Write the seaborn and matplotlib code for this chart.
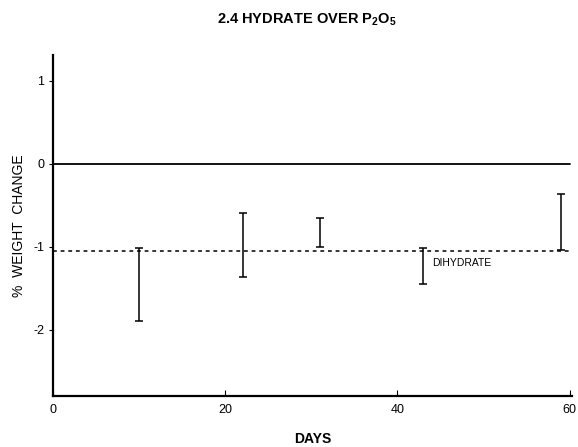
import numpy as np
import pandas as pd
import seaborn as sns
from matplotlib import pyplot as plt

# error bar ranges
days = [10, 22, 31, 43, 59]
upper = [-1.01, -0.60, -0.66, -1.01, -0.36]
lower = [-1.89, -1.36, -1.00, -1.45, -1.04]
dihydrate_level = -1.05

x_ticks = [0, 20, 40, 60]
y_ticks = [1, 0, -1, -2]

sns.set_style("ticks", {"text.color": "black", "axes.labelcolor": "black",
                        "xtick.color": "black", "ytick.color": "black",
                        "axes.edgecolor": "black"})
plt.rcParams['font.family'] = ['Liberation Sans', 'DejaVu Sans']
plt.rcParams['mathtext.default'] = 'regular'
plt.rcParams['mathtext.fontset'] = 'custom'
plt.rcParams['mathtext.bf'] = 'Liberation Sans:bold'

df = pd.DataFrame({"day": days * 2, "value": upper + lower})

fig = plt.figure(figsize=(5.78, 4.47), dpi=100)
ax = fig.add_axes([0.092, 0.114, 0.898, 0.763])

ax.vlines(days, lower, upper, color="black", lw=1.1)
sns.scatterplot(data=df, x="day", y="value", marker="_", s=40, color="black",
                linewidth=1.1, ax=ax, legend=False)

ax.axhline(0, xmin=0, xmax=60 / 60.3, color="black", lw=1.3)
ax.axhline(dihydrate_level, xmin=0, xmax=60 / 60.3, color="black", lw=1.1,
           linestyle=(0, (2.5, 2.5)))
ax.text(47.5, -1.2, "DIHYDRATE", fontsize=7.5, ha="center", va="center")

ax.set_xlim(0, 60.3)
ax.set_ylim(-2.8, 1.31)
ax.set_xticks(x_ticks)
ax.set_yticks(y_ticks)
ax.set_xticklabels([str(t) for t in x_ticks], fontsize=9)
ax.set_yticklabels([str(t) for t in y_ticks], fontsize=9)
ax.tick_params(axis="x", direction="in", length=4, pad=6)
ax.tick_params(axis="y", direction="out", length=3)

sns.despine(ax=ax)
ax.spines["left"].set_linewidth(1.6)
ax.spines["bottom"].set_linewidth(1.6)

ax.set_xlabel("DAYS", fontsize=10, fontweight="bold", labelpad=11)
ax.set_ylabel("%  WEIGHT  CHANGE", fontsize=10, labelpad=5)
fig.suptitle(r"2.4 HYDRATE OVER P$_\mathbf{2}$O$_\mathbf{5}$", fontsize=10.5,
             fontweight="bold", x=0.53, y=0.975)

fig.savefig("out.png", dpi=100)
